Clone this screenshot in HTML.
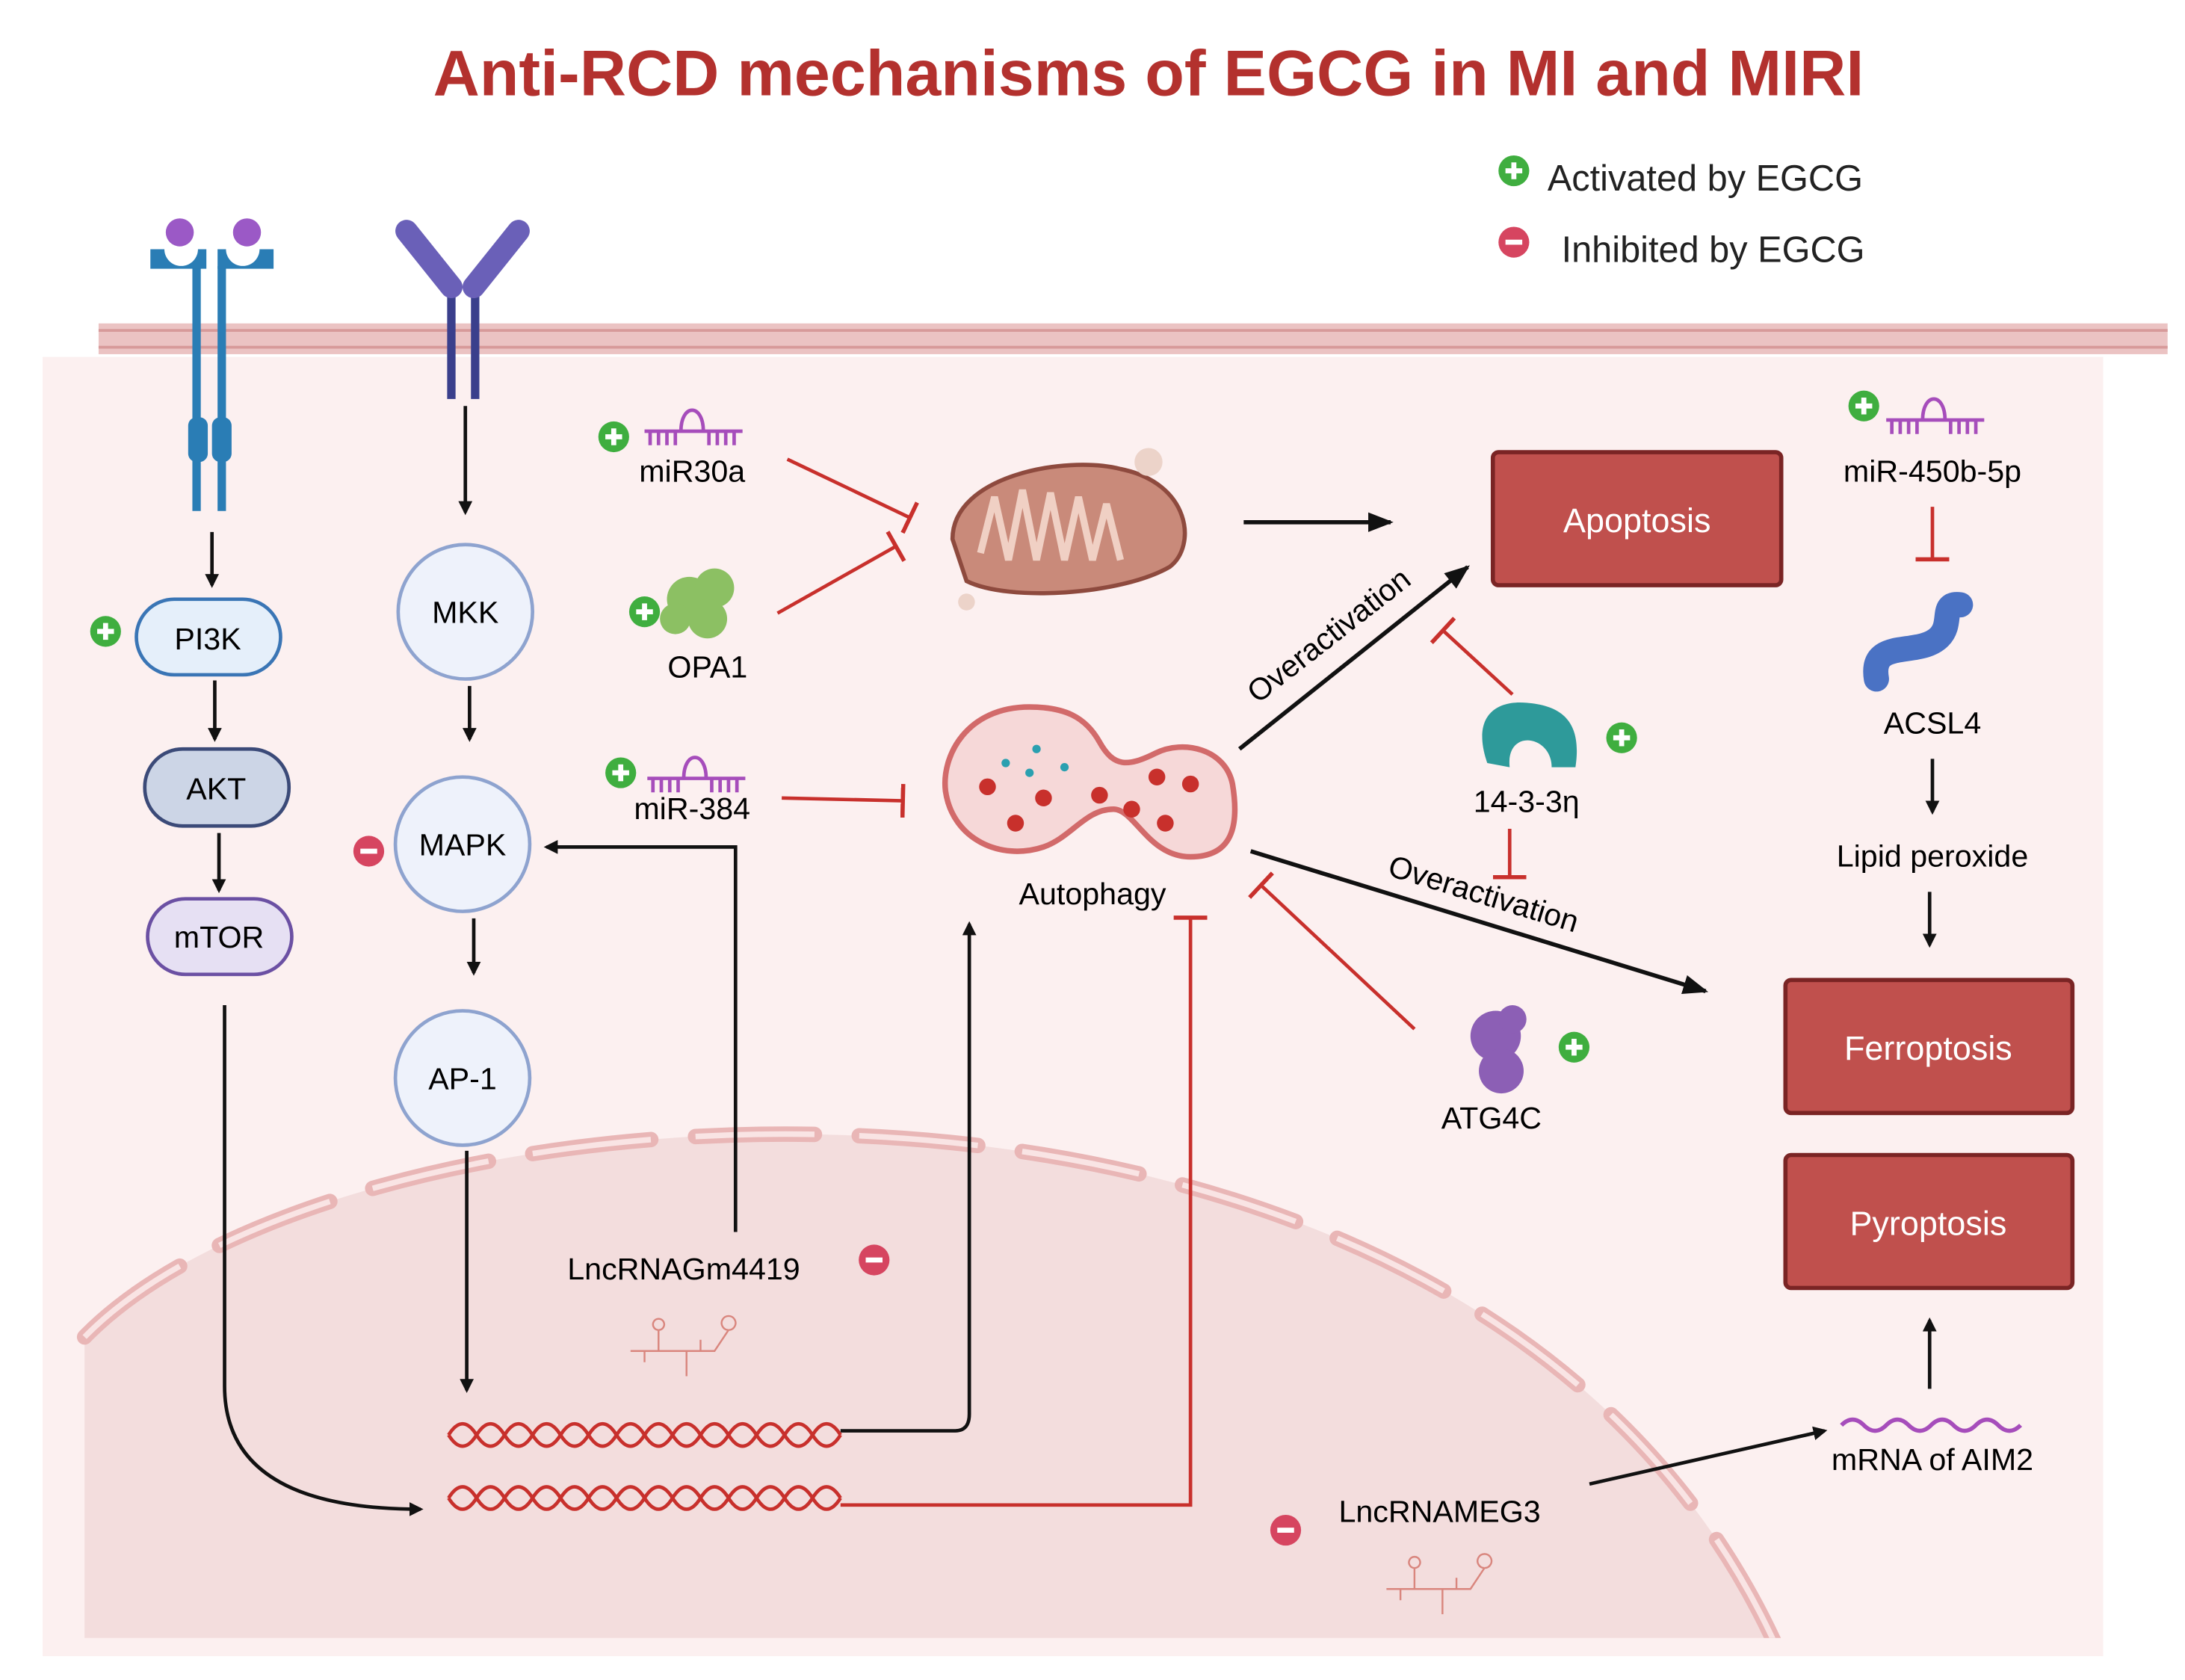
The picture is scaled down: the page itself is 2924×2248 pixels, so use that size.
<!DOCTYPE html>
<html><head><meta charset="utf-8"><style>
html,body{margin:0;padding:0;background:#fff;}
svg{display:block;}
text{font-family:"Liberation Sans",Arial,sans-serif;}
</style></head><body>
<svg width="2924" height="2248" viewBox="0 0 1560 1200" xmlns="http://www.w3.org/2000/svg">
<defs>
<marker id="ab" markerWidth="10" markerHeight="10" refX="8" refY="5" orient="auto" markerUnits="userSpaceOnUse"><path d="M0,0 L10,5 L0,10 Z" fill="#111"/></marker>
<marker id="ab2" markerWidth="18" markerHeight="14" refX="16" refY="7" orient="auto" markerUnits="userSpaceOnUse"><path d="M0,0 L18,7 L0,14 Z" fill="#111"/></marker>
<marker id="tb" markerWidth="4" markerHeight="24" refX="2" refY="12" orient="auto" markerUnits="userSpaceOnUse"><rect x="0" y="0" width="3" height="24" fill="#c8302c"/></marker>
<clipPath id="cell"><rect x="30" y="255" width="1472" height="915"/></clipPath>
<g id="plus"><circle r="11" fill="#3fae3f"/><rect x="-6" y="-1.8" width="12" height="3.6" fill="#fff"/><rect x="-1.8" y="-6" width="3.6" height="12" fill="#fff"/></g>
<g id="minus"><circle r="11" fill="#d64560"/><rect x="-6" y="-1.8" width="12" height="3.6" fill="#fff"/></g>
<g id="rna" fill="none" stroke="#a64dbb" stroke-width="2.5"><path d="M0,0 H70"/><path d="M4,0v10M10,0v10M16,0v10M22,0v10M46,0v10M52,0v10M58,0v10M64,0v10"/><path d="M26,0 C26,-20 42,-20 42,0"/></g>
<g id="lnc" fill="none" stroke="#d9867e" stroke-width="1.3"><path d="M0,20 H20 V5 M20,20 H40 V30 M40,20 H60 L70,5 M70,5 a5,5 0 1 1 0.1,0 M20,5 a4,4 0 1 1 0.1,0 M40,30 v8 M10,20 v8 M50,20 v-8"/></g>
</defs>
<rect width="1560" height="1200" fill="#fff"/>
<text x="820" y="68" text-anchor="middle" font-size="46" font-weight="bold" fill="#b3312e">Anti-RCD mechanisms of EGCG in MI and MIRI</text>
<use href="#plus" x="1081" y="122"/><text x="1105" y="136" font-size="26" fill="#222">Activated by EGCG</text>
<use href="#minus" x="1081" y="173"/><text x="1115" y="187" font-size="26" fill="#222">Inhibited by EGCG</text>
<rect x="70" y="231" width="1478" height="22" fill="#ebc3c3"/>
<line x1="70" y1="236" x2="1548" y2="236" stroke="#d79a9a" stroke-width="2"/>
<line x1="70" y1="248" x2="1548" y2="248" stroke="#d79a9a" stroke-width="2"/>
<rect x="30" y="255" width="1472" height="928" fill="#fcf0f0"/>
<g clip-path="url(#cell)">
<path d="M60,955 C250,760 1050,700 1268,1175 L60,1175 Z" fill="#f3dddd"/>
<path d="M60,955 C250,760 1050,700 1268,1175" fill="none" stroke="#e9b6b6" stroke-width="11" stroke-dasharray="85 32" stroke-linecap="round"/>
<path d="M60,955 C250,760 1050,700 1268,1175" fill="none" stroke="#f9e4e4" stroke-width="4" stroke-dasharray="85 32"/>
</g>
<g fill="#2a7db5">
<rect x="137" y="190" width="6" height="175"/><rect x="155" y="190" width="6" height="175"/>
<rect x="134" y="298" width="14" height="32" rx="6"/><rect x="151" y="298" width="14" height="32" rx="6"/>
<path d="M107,178 h10 a12,12 0 0 0 24,0 h6 v14 h-40 z"/><path d="M155,178 h6 a12,12 0 0 0 24,0 h10 v14 h-40 z"/>
</g>
<circle cx="128" cy="166" r="10" fill="#9b59c6"/><circle cx="176" cy="166" r="10" fill="#9b59c6"/>
<g fill="#3a3f8c"><rect x="319" y="200" width="6" height="85"/><rect x="336" y="200" width="6" height="85"/></g>
<path d="M290,165 L322,205" stroke="#6a60b8" stroke-width="16" stroke-linecap="round"/>
<path d="M370,165 L338,205" stroke="#6a60b8" stroke-width="16" stroke-linecap="round"/>
<g stroke="#111" stroke-width="2.5" fill="none" marker-end="url(#ab)">
<line x1="151" y1="380" x2="151" y2="418"/><line x1="153" y1="486" x2="153" y2="528"/><line x1="156" y1="595" x2="156" y2="636"/>
<line x1="332" y1="290" x2="332" y2="366"/><line x1="335" y1="490" x2="335" y2="528"/><line x1="338" y1="656" x2="338" y2="695"/>
<line x1="333" y1="822" x2="333" y2="993"/>
<path d="M160,718 V990 Q160,1078 300,1078"/>
<path d="M525,880 V605 H390"/>
<path d="M600,1022 H682 Q692,1022 692,1010 V660"/>
<line x1="1380" y1="542" x2="1380" y2="580"/><line x1="1378" y1="637" x2="1378" y2="675"/>
<line x1="1378" y1="992" x2="1378" y2="943"/>
<line x1="1135" y1="1060" x2="1303" y2="1022"/>
</g>
<g stroke="#111" stroke-width="3" fill="none" marker-end="url(#ab2)">
<line x1="888" y1="373" x2="993" y2="373"/>
<line x1="885" y1="535" x2="1048" y2="405"/>
<line x1="893" y1="608" x2="1218" y2="708"/>
</g>
<rect x="97" y="428" width="103" height="54" rx="27" fill="#e5effa" stroke="#3a75b5" stroke-width="2.5"/><text x="148" y="464" text-anchor="middle" font-size="22">PI3K</text>
<use href="#plus" x="75" y="451"/>
<rect x="103" y="535" width="103" height="55" rx="27" fill="#ccd5e6" stroke="#3b4a78" stroke-width="2.5"/><text x="154" y="571" text-anchor="middle" font-size="22">AKT</text>
<rect x="105" y="642" width="103" height="54" rx="27" fill="#e6e0f3" stroke="#6b50a3" stroke-width="2.5"/><text x="156" y="677" text-anchor="middle" font-size="22">mTOR</text>
<g fill="#eef2fb" stroke="#8ea3cf" stroke-width="2.5">
<circle cx="332" cy="437" r="48"/><circle cx="330" cy="603" r="48"/><circle cx="330" cy="770" r="48"/></g>
<text x="332" y="445" text-anchor="middle" font-size="22">MKK</text>
<text x="330" y="611" text-anchor="middle" font-size="22">MAPK</text>
<text x="330" y="778" text-anchor="middle" font-size="22">AP-1</text>
<use href="#minus" x="263" y="608"/>
<g fill="none" stroke="#c8302c" stroke-width="2.5">
<path d="M320,1025 q10,-16 20,0 t20,0 t20,0 t20,0 t20,0 t20,0 t20,0 t20,0 t20,0 t20,0 t20,0 t20,0 t20,0 t20,0"/>
<path d="M320,1025 q10,16 20,0 t20,0 t20,0 t20,0 t20,0 t20,0 t20,0 t20,0 t20,0 t20,0 t20,0 t20,0 t20,0 t20,0"/>
<path d="M320,1070 q10,-16 20,0 t20,0 t20,0 t20,0 t20,0 t20,0 t20,0 t20,0 t20,0 t20,0 t20,0 t20,0 t20,0 t20,0"/>
<path d="M320,1070 q10,16 20,0 t20,0 t20,0 t20,0 t20,0 t20,0 t20,0 t20,0 t20,0 t20,0 t20,0 t20,0 t20,0 t20,0"/>
</g>
<text x="488" y="914" text-anchor="middle" font-size="22">LncRNAGm4419</text>
<use href="#minus" x="624" y="900"/>
<use href="#lnc" x="450" y="945"/>
<text x="1028" y="1087" text-anchor="middle" font-size="22">LncRNAMEG3</text>
<use href="#minus" x="918" y="1093"/>
<use href="#lnc" x="990" y="1115"/>
<g stroke="#c8302c" stroke-width="2.5" fill="none" marker-end="url(#tb)">
<path d="M600,1075 H850 V655"/>
<line x1="562" y1="328" x2="650" y2="370"/>
<line x1="555" y1="438" x2="640" y2="390"/>
<line x1="558" y1="570" x2="645" y2="572"/>
<line x1="1080" y1="496" x2="1030" y2="450"/>
<line x1="1078" y1="592" x2="1078" y2="627"/>
<line x1="1010" y1="735" x2="900" y2="632"/>
<line x1="1380" y1="362" x2="1380" y2="400"/>
</g>
<use href="#plus" x="438" y="312"/><use href="#rna" x="460" y="308"/><text x="494" y="344" text-anchor="middle" font-size="22">miR30a</text>
<g fill="#8cc063"><circle cx="492" cy="428" r="16"/><circle cx="510" cy="420" r="14"/><circle cx="505" cy="442" r="14"/><circle cx="482" cy="442" r="11"/></g>
<use href="#plus" x="460" y="437"/><text x="505" y="484" text-anchor="middle" font-size="22">OPA1</text>
<use href="#plus" x="443" y="552"/><use href="#rna" x="462" y="556"/><text x="494" y="585" text-anchor="middle" font-size="22">miR-384</text>
<path d="M680,385 C680,340 760,325 800,335 C850,345 855,390 835,405 C800,425 720,430 690,415 Z" fill="#c98a7a" stroke="#8e4a3e" stroke-width="3"/>
<path d="M700,395 l10,-40 l10,45 l10,-50 l10,50 l10,-48 l10,48 l10,-45 l10,45 l10,-40 l10,40" fill="none" stroke="#f0d0c4" stroke-width="5"/>
<circle cx="820" cy="330" r="10" fill="#ecd3c9"/><circle cx="690" cy="430" r="6" fill="#ecd3c9"/>
<path d="M735,505 C690,505 672,540 675,565 C680,600 715,615 745,605 C765,598 775,578 795,578 C810,578 820,612 850,612 C880,612 885,590 880,560 C875,535 845,528 825,538 C805,548 795,548 785,530 C775,512 760,505 735,505 Z" fill="#f6d8d8" stroke="#d26a6a" stroke-width="4"/>
<g fill="#c8302c"><circle cx="705" cy="562" r="6"/><circle cx="725" cy="588" r="6"/><circle cx="745" cy="570" r="6"/><circle cx="785" cy="568" r="6"/><circle cx="808" cy="578" r="6"/><circle cx="832" cy="588" r="6"/><circle cx="850" cy="560" r="6"/><circle cx="826" cy="555" r="6"/></g>
<g fill="#2aa0b0"><circle cx="718" cy="545" r="3"/><circle cx="740" cy="535" r="3"/><circle cx="760" cy="548" r="3"/><circle cx="735" cy="552" r="3"/></g>
<text x="780" y="646" text-anchor="middle" font-size="22">Autophagy</text>
<rect x="1066" y="323" width="206" height="95" rx="4" fill="#c0504d" stroke="#7a2424" stroke-width="3"/><text x="1169" y="380" text-anchor="middle" font-size="24" fill="#fff">Apoptosis</text>
<rect x="1275" y="700" width="205" height="95" rx="4" fill="#c0504d" stroke="#7a2424" stroke-width="3"/><text x="1377" y="757" text-anchor="middle" font-size="24" fill="#fff">Ferroptosis</text>
<rect x="1275" y="825" width="205" height="95" rx="4" fill="#c0504d" stroke="#7a2424" stroke-width="3"/><text x="1377" y="882" text-anchor="middle" font-size="24" fill="#fff">Pyroptosis</text>
<use href="#plus" x="1331" y="290"/><use href="#rna" x="1347" y="300"/><text x="1380" y="344" text-anchor="middle" font-size="22">miR-450b-5p</text>
<path d="M1340,485 C1335,455 1370,470 1385,455 C1395,445 1385,430 1400,432" fill="none" stroke="#4a72c4" stroke-width="18" stroke-linecap="round"/>
<text x="1380" y="524" text-anchor="middle" font-size="22">ACSL4</text>
<text x="1380" y="619" text-anchor="middle" font-size="22">Lipid peroxide</text>
<path d="M1315,1018 q8,-8 16,0 t16,0 t16,0 t16,0 t16,0 t16,0 t16,0 t16,0" fill="none" stroke="#a64dbb" stroke-width="3"/>
<text x="1380" y="1050" text-anchor="middle" font-size="22">mRNA of AIM2</text>
<path d="M1062,545 C1050,510 1070,500 1090,502 C1115,504 1130,515 1125,548 L1108,548 C1108,525 1075,520 1078,548 Z" fill="#2e9a9a"/>
<use href="#plus" x="1158" y="527"/><text x="1090" y="580" text-anchor="middle" font-size="22">14-3-3η</text>
<g fill="#8c5fb5"><circle cx="1068" cy="740" r="18"/><circle cx="1072" cy="765" r="16"/><circle cx="1080" cy="728" r="10"/></g>
<use href="#plus" x="1124" y="748"/><text x="1065" y="806" text-anchor="middle" font-size="22">ATG4C</text>
<text font-size="22" transform="translate(898,503) rotate(-38)">Overactivation</text>
<text font-size="22" transform="translate(990,625) rotate(17)">Overactivation</text>
</svg>
</body></html>
